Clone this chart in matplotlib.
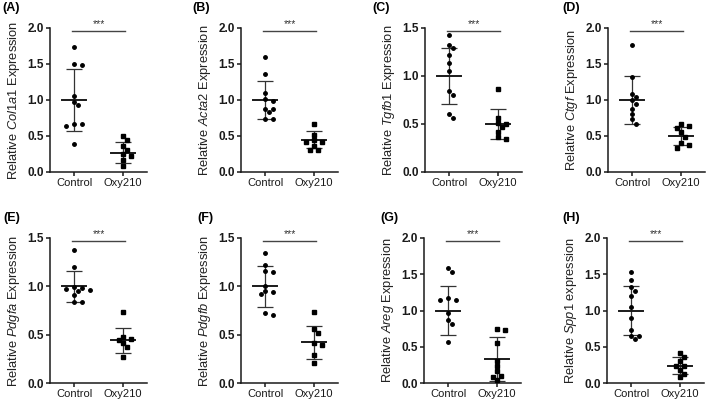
import numpy as np
import matplotlib
matplotlib.use("Agg")
import matplotlib.pyplot as plt

plt.rcParams['font.family'] = ['Liberation Sans', 'DejaVu Sans']
plt.rcParams['mathtext.fontset'] = 'custom'
plt.rcParams['mathtext.rm'] = 'Liberation Sans'
plt.rcParams['mathtext.it'] = 'Liberation Sans:italic'

# data
panel_tags = ['(A)', '(B)', '(C)', '(D)', '(E)', '(F)', '(G)', '(H)']
genes = ['Col1a1', 'Acta2', 'Tgfb1', 'Ctgf', 'Pdgfa', 'Pdgfb', 'Areg', 'Spp1']
label_tail = ['Expression'] * 7 + ['expression']
groups = ['Control', 'Oxy210']
y_max = [2.0, 2.0, 1.5, 2.0, 1.5, 1.5, 2.0, 2.0]

control = [
    [1.73, 1.50, 1.48, 1.06, 0.97, 0.93, 0.67, 0.66, 0.64, 0.39],
    [1.60, 1.36, 1.10, 1.02, 0.99, 0.88, 0.87, 0.83, 0.74, 0.73],
    [1.43, 1.32, 1.29, 1.22, 1.14, 1.05, 0.84, 0.80, 0.60, 0.56],
    [1.77, 1.32, 1.09, 1.04, 1.00, 0.95, 0.88, 0.81, 0.73, 0.67],
    [1.38, 1.20, 0.99, 0.98, 0.97, 0.96, 0.95, 0.91, 0.84, 0.84],
    [1.34, 1.22, 1.16, 1.15, 1.00, 0.95, 0.94, 0.92, 0.72, 0.70],
    [1.58, 1.53, 1.17, 1.15, 1.15, 0.96, 0.87, 0.82, 0.56],
    [1.53, 1.42, 1.33, 1.27, 1.20, 1.05, 0.90, 0.73, 0.65, 0.65, 0.61],
]
oxy210 = [
    [0.50, 0.44, 0.36, 0.31, 0.25, 0.22, 0.17, 0.09],
    [0.67, 0.52, 0.45, 0.42, 0.42, 0.36, 0.31, 0.30],
    [0.86, 0.56, 0.51, 0.50, 0.47, 0.42, 0.36, 0.34],
    [0.66, 0.64, 0.61, 0.55, 0.49, 0.40, 0.37, 0.34],
    [0.73, 0.48, 0.46, 0.44, 0.41, 0.37, 0.27],
    [0.73, 0.56, 0.52, 0.41, 0.39, 0.29, 0.21],
    [0.75, 0.73, 0.55, 0.31, 0.23, 0.16, 0.10, 0.08, 0.04],
    [0.42, 0.36, 0.30, 0.24, 0.24, 0.18, 0.13, 0.08],
]
control_mean = [1.0, 1.0, 1.0, 1.0, 1.0, 1.0, 1.0, 1.0]
control_sd = [0.43, 0.27, 0.29, 0.33, 0.16, 0.21, 0.34, 0.34]
oxy_mean = [0.27, 0.45, 0.50, 0.50, 0.44, 0.42, 0.33, 0.24]
oxy_sd = [0.14, 0.12, 0.16, 0.12, 0.13, 0.17, 0.30, 0.12]


def swarm_x(ax, center, values, diam_px=4.6):
    # spread points sideways when they would overlap (prism style scatter)
    to_px = ax.transData
    placed = []
    xs = np.zeros(len(values))
    step = 0.08
    for i in np.argsort(values)[::-1]:
        y = values[i]
        for k in [0, 1, -1, 2, -2, 3, -3, 4, -4]:
            x = center + k * step
            p = to_px.transform((x, y))
            if all(np.hypot(*(p - q)) >= diam_px for q in placed):
                break
        placed.append(p)
        xs[i] = x
    return xs


fig = plt.figure(figsize=(7.09, 4.04), dpi=100)
W, H = 709, 404
lefts = [50, 241, 425, 608, 50, 241, 424, 607]
tag_pos = [(2, 8), (192, 8), (372, 8), (562, 8), (3, 218), (197, 218), (380, 218), (562, 218)]

for i in range(8):
    row = i // 4
    top_px, bot_px = (28, 172) if row == 0 else (238, 383)
    ax = fig.add_axes([lefts[i] / W, 1 - bot_px / H, 97 / W, (bot_px - top_px) / H])
    ax.set_xlim(-0.5, 1.5)
    ax.set_ylim(0, y_max[i])
    ax.set_yticks(np.arange(0, y_max[i] + 0.01, 0.5))
    ax.set_yticklabels(['%.1f' % v for v in np.arange(0, y_max[i] + 0.01, 0.5)],
                       fontweight='bold', fontsize=8.5)
    ax.set_xticks([0, 1])
    ax.set_xticklabels(groups, fontsize=8)
    for s in ['top', 'right']:
        ax.spines[s].set_visible(False)
    for s in ['left', 'bottom']:
        ax.spines[s].set_linewidth(1.1)
        ax.spines[s].set_color('#1a1a1a')
    ax.tick_params(width=1.1, length=2.8, pad=1.5, colors='#1a1a1a')
    ax.set_ylabel('Relative $\\it{%s}$ %s' % (genes[i], label_tail[i]),
                  fontsize=9.3, labelpad=4, color='#222222')

    fig.canvas.draw()
    for g, (vals, mean, sd, mk) in enumerate([(control[i], control_mean[i], control_sd[i], 'o'),
                                              (oxy210[i], oxy_mean[i], oxy_sd[i], 's')]):
        vals = np.array(vals)
        xs = swarm_x(ax, g, vals)
        ax.plot(xs, vals, mk, color='black', markersize=2.5 if mk == 'o' else 2.2,
                clip_on=False, zorder=3)
        ax.errorbar(g, mean, yerr=sd, fmt='none', ecolor='#333333', elinewidth=0.9,
                    capsize=5.5, capthick=0.9, zorder=2)
        ax.plot([g - 0.25, g + 0.25], [mean, mean], color='#1a1a1a', lw=1.4, zorder=2)

    y_bar = y_max[i] * 0.98
    ax.plot([-0.05, 1.05], [y_bar, y_bar], color='#444444', lw=1.0, clip_on=False)
    ax.text(0.5, y_bar + y_max[i] * 0.012, '***', ha='center', va='bottom',
            fontsize=7.5, color='#333333', clip_on=False)

    fig.text(tag_pos[i][0] / W, 1 - tag_pos[i][1] / H, panel_tags[i], fontsize=9,
             fontweight='bold', ha='left', va='center')

fig.savefig('out.png', dpi=100)
